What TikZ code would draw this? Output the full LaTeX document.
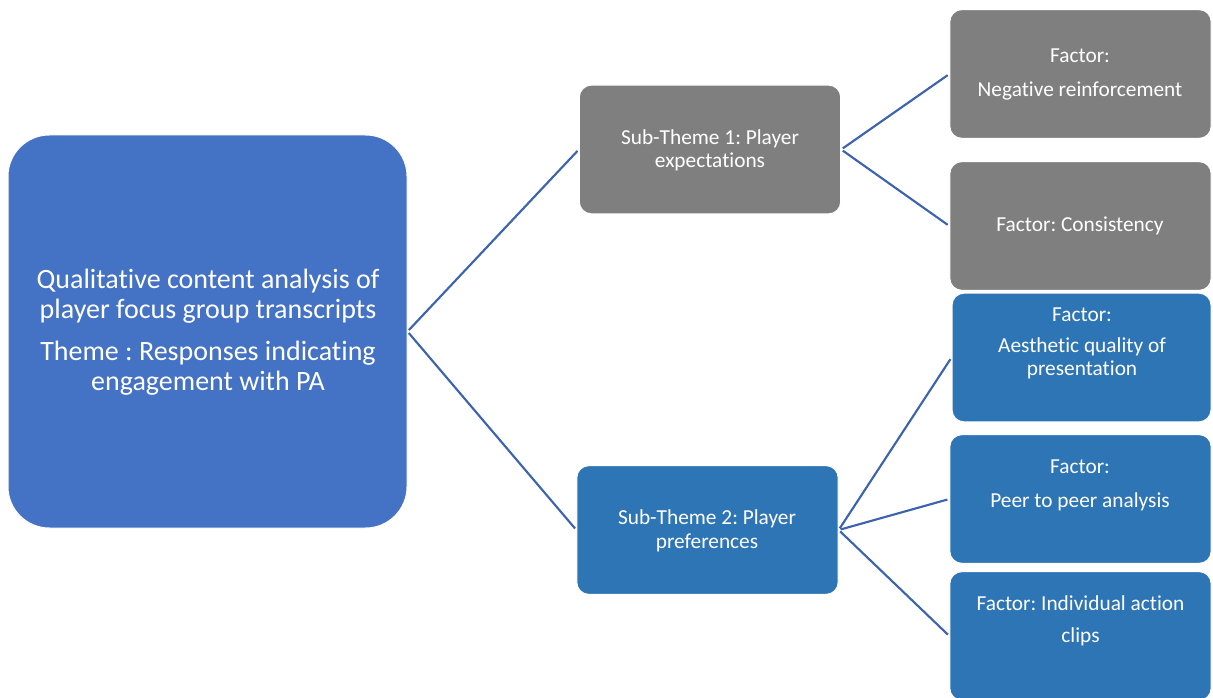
\documentclass[tikz,border=0pt]{standalone}
\usepackage{fontspec}
\setmainfont{Carlito}[Ligatures=NoCommon]
\frenchspacing
\definecolor{themeblue}{HTML}{4472C4}
\definecolor{subgray}{HTML}{7F7F7F}
\definecolor{subblue}{HTML}{2E75B6}
\definecolor{linkblue}{HTML}{3D63B0}
\begin{document}
\begin{tikzpicture}[x=0.75pt,y=-0.75pt,
  box/.style={draw=white,line width=0.75pt,inner sep=0pt,text=white},
  mainbox/.style={box,fill=themeblue,rounded corners=31pt,minimum width=299.25pt,minimum height=294.75pt},
  greybox/.style={box,fill=subgray,rounded corners=9pt,minimum width=196pt,minimum height=96.5pt},
  bluebox/.style={box,fill=subblue,rounded corners=9pt,minimum width=196pt,minimum height=96.5pt},
  label/.style={text=white,align=center,anchor=base,inner sep=0pt},
  smalltxt/.style={label,font=\fontsize{16pt}{17.75pt}\selectfont},
  bigtxt/.style={label,font=\fontsize{21pt}{22.5pt}\selectfont},
  link/.style={draw=linkblue,line width=1.6pt,shorten >=1.5pt,shorten <=1.5pt}]
\useasboundingbox (0,0) rectangle (1213,698);
\clip (0,0) rectangle (1213,698);

% boxes
\node[mainbox] (main) at (207.5,331.5) {};
\node[greybox] (sub1) at (710,149.5) {};
\node[bluebox] (sub2) at (707.5,530) {};
\node[greybox] (f1) at (1080.5,74) {};
\node[greybox] (f2) at (1080.5,226) {};
\node[bluebox,minimum width=194.25pt] (f3) at (1081.5,357.5) {};
\node[bluebox] (f4) at (1080.5,499) {};
\node[bluebox] (f5) at (1080.5,636) {};

% texts (positioned by the baseline of their last line)
\node[bigtxt] (maint) at (208,390) {Qualitative content analysis of\\player focus group transcripts\\[9pt]Theme : Responses indicating\\engagement with PA};
\node[smalltxt] (sub1t) at (710,168) {Sub-Theme 1: Player\\expectations};
\node[smalltxt] (sub2t) at (707,548) {Sub-Theme 2: Player\\preferences};
\node[smalltxt] (f1t) at (1080,97) {Factor:\\[7.75pt]Negative reinforcement};
\node[smalltxt] (f2t) at (1080,232) {Factor: Consistency};
\node[smalltxt] (f3t) at (1082,376) {Factor:\\[5.5pt]Aesthetic quality of\\presentation};
\node[smalltxt] (f4t) at (1080,507) {Factor:\\[7.75pt]Peer to peer analysis};
\node[smalltxt] (f5t) at (1080.5,642) {Factor: Individual action\\[6.25pt]clips};

% connectors
\draw[link] (main.east) -- (sub1.west);
\draw[link] (main.east) -- (sub2.west);
\draw[link] (sub1.east) -- (f1.west);
\draw[link] (sub1.east) -- (f2.west);
\draw[link] (sub2.east) -- (f3.west);
\draw[link] (sub2.east) -- (f4.west);
\draw[link] (sub2.east) -- (f5.west);
\end{tikzpicture}
\end{document}
